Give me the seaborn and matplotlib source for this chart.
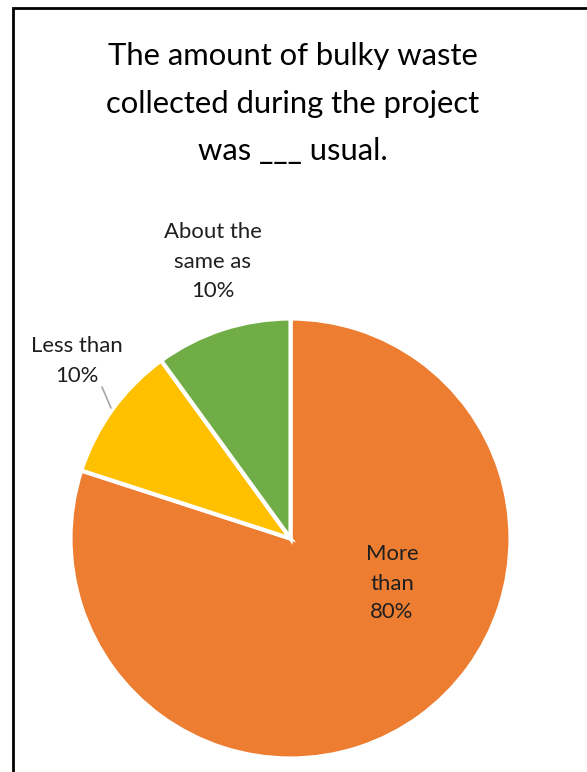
import matplotlib
matplotlib.use("Agg")
import matplotlib.pyplot as plt
import seaborn as sns

# Survey answers and their shares
categories = ["More than", "Less than", "About the same as"]
shares = [80, 10, 10]
colors = ["#ED7D31", "#FFC000", "#70AD47"]
title_lines = ["The amount of bulky waste", "collected during the project", "was ___ usual."]

sns.set_theme(style="white")
plt.rcParams["font.family"] = ["Lato", "DejaVu Sans"]

W, H = 587, 772
fig = plt.figure(figsize=(W / 100, H / 100), dpi=100)
ax = fig.add_axes([0, 0, 1, 1])

# Pie: center and radius in pixel units (y measured from bottom)
cx, cy, r = 290.5, H - 538.5, 220
wedges, _ = ax.pie(
    shares, colors=colors, startangle=90, counterclock=False,
    center=(cx, cy), radius=r,
    wedgeprops=dict(edgecolor="white", linewidth=3, antialiased=True),
)
ax.set_xlim(0, W)
ax.set_ylim(0, H)
ax.set_aspect("equal")
ax.axis("off")

# Frame around the chart area (only left and top edges fall inside the image)
ax.plot([12.5, 12.5, W + 5], [-5, H - 8, H - 8], color="black", lw=2, solid_joinstyle="miter")

# Title
for line, base in zip(title_lines, [65, 113, 160]):
    ax.text(293, H - base, line, ha="center", va="baseline", fontsize=22.3, color="black")

label_color = "#1f1f1f"
fs = 15.9

def label(x, baselines, lines):
    for ln, b in zip(lines, baselines):
        ax.text(x, H - b, ln, ha="center", va="baseline", fontsize=fs, color=label_color)

label(213, [238, 268, 297], ["About the", "same as", f"{shares[2]}%"])
label(77, [352, 382], ["Less than", f"{shares[1]}%"])
label(392, [560, 590, 618], ["More", "than", f"{shares[0]}%"])

# Leader line for the small yellow slice
ax.plot([102, 111], [H - 387, H - 408], color="#A6A6A6", lw=1.2)

fig.savefig("out.png", dpi=100, facecolor="white")
